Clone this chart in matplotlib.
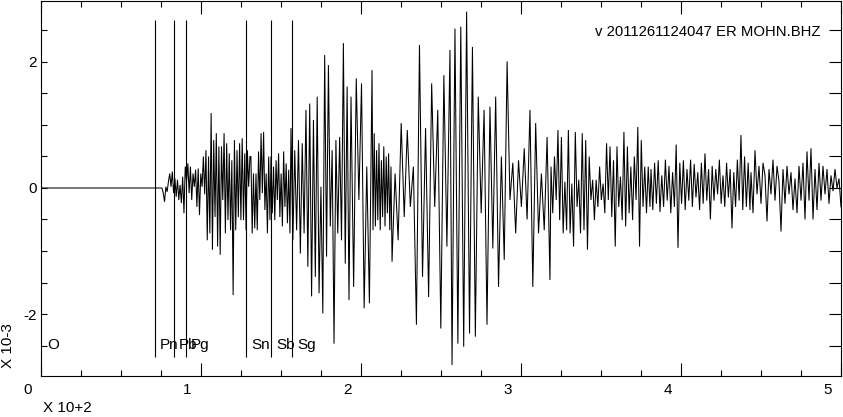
import numpy as np
import matplotlib
matplotlib.use("Agg")
import matplotlib.pyplot as plt
from matplotlib.transforms import ScaledTranslation

plt.rcParams['font.family'] = ['Liberation Sans', 'DejaVu Sans']
plt.rcParams['axes.unicode_minus'] = False

# ---------------- data ----------------
title = "v 2011261124047 ER MOHN.BHZ"
x_scale_label = "X 10+2"
y_scale_label = "X 10-3"
x_tick_values = [0, 1, 2, 3, 4, 5]
x_tick_labels = ["0", "1", "2", "3", "4", "5"]
y_tick_values = [-2, 0, 2]
y_tick_labels = ["-2", "0", "2"]
phase_names = ["Pn", "Pb", "Pg", "Sn", "Sb", "Sg"]
phase_times = [0.7125, 0.831, 0.906, 1.281, 1.4375, 1.569]
origin_label = "O"

# waveform pieces: time span (x 100 s) and successive amplitudes (x 1e-3)
seg0_span = (0.0, 0.75)
seg0_amp = [0.0, 0.0]

seg1_span = (0.756, 1.306)
seg1_amp = [0.0, -0.08, -0.22, 0.02, -0.06, 0.10, 0.23, 0.02, 0.26, -0.08,
            0.15, -0.14, 0.13, -0.19, 0.05, -0.24, 0.18, -0.40, 0.34, 0.10,
            0.39, -0.08, 0.34, -0.19, 0.23, 0.02, 0.29, -0.30, 0.31, -0.43,
            0.23, 0.02, 0.50, -0.10, 0.60, -0.83, 0.50, -0.72, 1.19, -0.98,
            0.76, -0.46, 0.87, -0.93, 0.66, -1.06, 0.66, -0.19, 0.87, -0.72,
            0.71, -0.51, 0.55, -0.67, 0.44, -1.70, 0.76, -0.67, 0.60, -0.46,
            0.71, -0.51, 0.79, -0.51, 0.55, -0.67, 0.60, 0.02, 0.50]

seg2a_span = (1.312, 1.431)
seg2a_amp = [0.50, -0.72, 0.23, -0.64, 0.23, -0.67, 0.58, -0.19, 0.87, -0.08,
             0.89, -0.35, 0.23, -0.72, 0.50, -0.51]

seg2b_span = (1.4375, 1.556)
seg2b_amp = [0.50, -0.40, 0.34, -0.51, 0.44, -0.19, 0.55, -0.46, 0.23, -0.61,
             0.58, -0.30, 0.39, -0.56, 0.29, -0.72]

seg2c_span = (1.5625, 1.925)
seg2c_amp = [0.95, -0.83, 0.60, -0.67, 0.76, -1.04, 0.71, -0.72, 1.24, -1.25,
             1.34, -1.72, 1.08, -1.41, 1.45, -1.67, 0.02, -1.99, 2.11, -1.09,
             1.95, -0.61, 0.60, -2.47, 0.76, -0.72, 0.81, -0.83, 2.30, -1.20,
             1.61, -1.78]

seg3a_span = (1.9375, 2.069)
seg3a_amp = [1.45, -1.57, 1.74, -0.19, 1.66, -1.91, 0.34, -1.83, 1.87]

seg3b_span = (2.075, 2.1875)
seg3b_amp = [-0.67, 0.87, -0.61, 0.60, -0.51, 0.71, -0.67, 0.44, -0.46, 0.66,
             -0.61, 0.50, -0.40, 0.55, -0.67, 0.34]

seg3c_span = (2.194, 2.556)
seg3c_amp = [-1.17, 0.23, -0.83, 1.03, -0.46, 0.92, -0.30, 0.34, -2.17, 2.27,
             -1.41, 0.95, -1.73, 1.66, -0.30, 1.24, -2.23, 1.79, -0.93, 2.19]

seg4a_span = (2.569, 2.7875)
seg4a_amp = [-2.81, 2.53, -2.47, 2.56, -2.52, 2.80, -2.31, 2.24, -2.36, 1.45,
             -0.40, 1.24, -2.17]

seg4b_span = (2.806, 3.181)
seg4b_amp = [1.29, -0.96, 1.45, -1.57, 0.50, -1.14, 2.01, -0.19, 0.40, -0.72,
             0.44, -0.30, 0.63, -0.50, 1.24, -1.57, 1.03, -0.72, 0.23, -0.67,
             0.81, -1.46]

seg5_span = (3.1875, 3.806)
seg5_amp = [0.34, -0.40, 0.50, -0.19, 0.92, -0.51, 0.81, -0.72, 0.10, -0.67,
            0.92, -0.72, 0.07, -0.93, 0.89, -0.30, 0.13, -0.72, 0.87, -0.67,
            0.76, -0.98, 0.50, -0.19, 0.13, -0.51, 0.13, -0.30, 0.34, -0.19,
            0.07, -0.40, 0.71, -0.19, 0.66, -0.46, 0.44, -0.93, 0.66, -0.30,
            0.18, -0.51, 0.89, -0.61, 0.66, -0.40, 0.34, -0.51, 0.50, -0.19,
            0.97, -0.93, 0.76, -0.30, 0.34, -0.40, 0.34, -0.30]

seg6_span = (3.8125, 4.431)
seg6_amp = [0.30, -0.35, 0.40, -0.25, 0.44, -0.38, 0.20, -0.30, 0.45, -0.20,
            0.35, -0.40, 0.25, -0.30, 0.69, -0.95, 0.40, -0.25, 0.44, -0.35,
            0.30, -0.20, 0.45, -0.30, 0.38, -0.15, 0.25, -0.35, 0.40, -0.25,
            0.55, -0.20, 0.30, -0.50, 0.35, -0.20, 0.30, -0.10, 0.45, -0.25,
            0.20, -0.30, 0.40, -0.15, 0.30, -0.64, 0.25, -0.30, 0.45, -0.20,
            0.84, -0.35, 0.50, -0.30, 0.40, -0.35]

seg7_span = (4.4375, 5.0)
seg7_amp = [0.25, -0.40, 0.60, -0.10, 0.35, -0.25, 0.40, 0.20, -0.53, 0.30,
            -0.10, 0.45, -0.20, 0.35, 0.10, -0.69, 0.30, -0.25, 0.35, -0.10,
            0.25, -0.35, 0.15, -0.40, 0.35, -0.20, 0.40, -0.50, 0.58, -0.20,
            0.63, -0.50, 0.30, -0.35, 0.40, -0.20, 0.35, -0.10, 0.30, -0.25,
            0.20, -0.05, 0.30, 0.00, 0.15, -0.30]

segments = [
    (seg0_span, seg0_amp), (seg1_span, seg1_amp),
    (seg2a_span, seg2a_amp), (seg2b_span, seg2b_amp), (seg2c_span, seg2c_amp),
    (seg3a_span, seg3a_amp), (seg3b_span, seg3b_amp), (seg3c_span, seg3c_amp),
    (seg4a_span, seg4a_amp), (seg4b_span, seg4b_amp),
    (seg5_span, seg5_amp), (seg6_span, seg6_amp), (seg7_span, seg7_amp),
]
time = np.concatenate([np.linspace(s[0], s[1], len(v)) for s, v in segments])
amp = np.concatenate([np.asarray(v, float) for s, v in segments])

# ---------------- figure ----------------
W, H = 843, 417
fig = plt.figure(figsize=(W / 100, H / 100), dpi=100)
fig.patch.set_facecolor('white')
ax = fig.add_axes([41 / W, 41 / H, 800 / W, 375 / H])
ylim = (-2.984, 2.968)

ax.plot(time, amp, color='black', lw=0.75, solid_joinstyle='miter')
ax.set_xlim(0, 5)
ax.set_ylim(*ylim)

ax.vlines(phase_times, -2.683, 2.667, color='black', lw=0.8)
fs = 11
for name, tm in zip(phase_names, phase_times):
    ax.text(tm + 0.031, -2.49, name, ha='left', va='center', fontsize=fs)
ax.text(0.042, -2.49, origin_label, ha='left', va='center', fontsize=fs)

ax.text(3.4625, 2.476, title, ha='left', va='center', fontsize=10.7)

for sp in ax.spines.values():
    sp.set_linewidth(0.8)

ax.set_xticks(x_tick_values)
ax.set_xticklabels(x_tick_labels)
ax.set_xticks(np.arange(0, 5.001, 0.25), minor=True)
ax.tick_params(axis='x', which='major', direction='in', length=9.4, width=0.8,
               top=True, bottom=True, labelsize=fs, pad=5)
ax.tick_params(axis='x', which='minor', direction='in', length=4.6, width=0.8,
               top=True, bottom=True)
off = ScaledTranslation(-0.135, 0, fig.dpi_scale_trans)
for lbl in ax.xaxis.get_majorticklabels():
    lbl.set_transform(lbl.get_transform() + off)

ax.set_yticks(y_tick_values)
ax.set_yticklabels(y_tick_labels)
ax.set_yticks(np.arange(-2.5, 2.51, 0.5), minor=True)
ax.tick_params(axis='y', which='both', direction='in', length=4.3, width=0.8,
               left=True, right=False, labelsize=fs, pad=3.2)

ax2 = ax.twinx()
ax2.set_ylim(*ylim)
ax2.set_yticks(y_tick_values)
ax2.set_yticks(np.arange(-2.5, 2.51, 0.5), minor=True)
ax2.tick_params(axis='y', which='both', direction='in', length=8.6, width=0.8,
                labelright=False)
for sp in ax2.spines.values():
    sp.set_visible(False)

fig.text(43 / W, 1 - 408 / H, x_scale_label, ha='left', va='center', fontsize=fs)
fig.text(8 / W, 1 - 346 / H, y_scale_label, ha='center', va='center',
         rotation=90, fontsize=fs)

fig.savefig("out.png", dpi=100, facecolor='white')
